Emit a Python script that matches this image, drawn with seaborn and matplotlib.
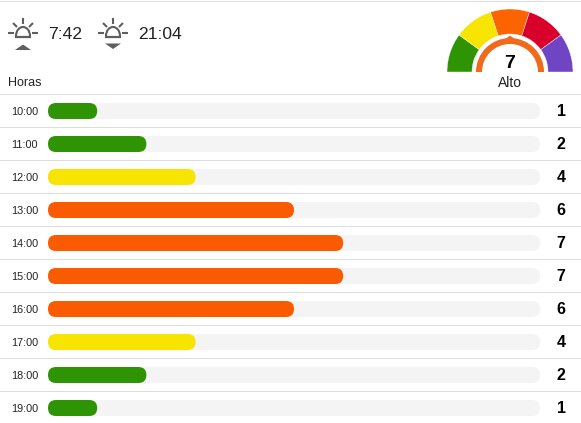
import matplotlib
matplotlib.use("Agg")
import matplotlib.pyplot as plt
from matplotlib.patches import FancyBboxPatch, Wedge, Polygon, Arc
import pandas as pd
import seaborn as sns

hours = ["10:00", "11:00", "12:00", "13:00", "14:00", "15:00", "16:00", "17:00", "18:00", "19:00"]
uv_index = [1, 2, 4, 6, 7, 7, 6, 4, 2, 1]
bar_percent = [10, 20, 30, 50, 60, 60, 50, 30, 20, 10]
track_percent = [100] * 10
sunrise = "7:42"
sunset = "21:04"
current_uv = 7
current_label = "Alto"
level_colors = {1: "#2e9404", 2: "#2e9404", 4: "#f7e400", 6: "#fb5b00", 7: "#fb5b00"}
gauge_colors = ["#2e9404", "#f7e400", "#fb6400", "#d9002c", "#6f45c4"]

W, H = 581, 423
X0, X_UNIT = 48, 4.92
Y0, Y_UNIT = 111, 33
GREY = "#5f5f5f"

sns.set_style("white")
plt.rcParams["font.family"] = ["Liberation Sans", "DejaVu Sans"]

fig = plt.figure(figsize=(W / 100, H / 100), dpi=100)

# pixel coordinates for the page furniture
page = fig.add_axes([0, 0, 1, 1])
page.set_xlim(0, W)
page.set_ylim(H, 0)
page.axis("off")

for y in [1] + [94 + 33 * i for i in range(10)]:
    page.plot([0, W], [y + 0.5, y + 0.5], color="#dcdcdc", lw=0.72, zorder=1)


def sun(cx, up):
    hy = 37
    page.plot([cx - 8, cx + 8], [hy, hy], color=GREY, lw=1.6, solid_capstyle="butt")
    page.add_patch(Arc((cx, hy - 1), 14, 18, theta1=180, theta2=360, color=GREY, lw=1.5))
    page.plot([cx, cx], [18, 24], color=GREY, lw=1.5, solid_capstyle="butt")
    page.plot([cx - 15, cx - 9], [33, 33], color=GREY, lw=1.5, solid_capstyle="butt")
    page.plot([cx + 9, cx + 15], [33, 33], color=GREY, lw=1.5, solid_capstyle="butt")
    page.plot([cx - 10, cx - 6], [23, 27], color=GREY, lw=1.5, solid_capstyle="butt")
    page.plot([cx + 10, cx + 6], [23, 27], color=GREY, lw=1.5, solid_capstyle="butt")
    if up:
        tri = [(cx - 8, 50), (cx + 8, 50), (cx, 44.5)]
    else:
        tri = [(cx - 8, 43.5), (cx + 8, 43.5), (cx, 49)]
    page.add_patch(Polygon(tri, closed=True, color=GREY, lw=0))


sun(23, True)
sun(113, False)
page.text(48, 34.5, sunrise, fontsize=12.6, va="center", ha="left", color="#222222")
page.text(138, 34.5, sunset, fontsize=12.6, va="center", ha="left", color="#222222")
page.text(8, 82.5, "Horas", fontsize=9, va="center", ha="left", color="#222222")

# gauge
cx, cy = 510, 72
for i, col in enumerate(gauge_colors):
    page.add_patch(Wedge((cx, cy), 63, 180 + 36 * i, 180 + 36 * (i + 1), width=25, facecolor=col,
                         edgecolor="white", lw=0.3))
page.add_patch(Wedge((cx, cy), 34, 180, 360, width=6, facecolor="#ef6a1a", lw=0))
page.add_patch(Polygon([(cx - 6, cy - 32), (cx + 6, cy - 32), (cx, cy - 36.5)], closed=True, color="#ef6a1a", lw=0))
page.text(cx - 0.5, 64, str(current_uv), fontsize=14, fontweight="bold", ha="center", va="center", color="black")
page.text(cx - 0.5, 83, current_label, fontsize=10, ha="center", va="center", color="#222222")

# bars, x in percent of the track, y in rows
ax = fig.add_axes([0, 0, 1, 1], facecolor="none")
df = pd.DataFrame({"hour": hours, "track": track_percent, "pct": bar_percent, "uv": uv_index})
sns.barplot(data=df, x="track", y="hour", order=hours, color="#f4f4f4", width=16 / Y_UNIT, ax=ax, orient="h")
n_track = len(ax.patches)
sns.barplot(data=df, x="pct", y="hour", order=hours, color="#2e9404", width=16 / Y_UNIT, ax=ax, orient="h")
ax.set_xlim(-X0 / X_UNIT, (W - X0) / X_UNIT)
ax.set_ylim((H - Y0) / Y_UNIT, -Y0 / Y_UNIT)
ax.axis("off")

# seaborn bars are square, swap them for pills
for i, bar in enumerate(list(ax.patches)):
    x, y, w, h = bar.get_x(), bar.get_y(), bar.get_width(), bar.get_height()
    bar.remove()
    row = i if i < n_track else i - n_track
    col = "#f4f4f4" if i < n_track else level_colors[uv_index[row]]
    pill = FancyBboxPatch((x, y), w, h, boxstyle=f"round,pad=0,rounding_size={8 / X_UNIT}",
                          mutation_aspect=X_UNIT / Y_UNIT, facecolor=col, edgecolor="none", lw=0)
    ax.add_patch(pill)

for row, (hour, uv) in enumerate(zip(hours, uv_index)):
    ax.text(-37 / X_UNIT, row + 0.03, hour, fontsize=7.8, ha="left", va="center", color="#222222")
    ax.text(104.3, row + 0.03, str(uv), fontsize=11.5, fontweight="bold", ha="center", va="center", color="black")

fig.savefig("out.png", dpi=100)
